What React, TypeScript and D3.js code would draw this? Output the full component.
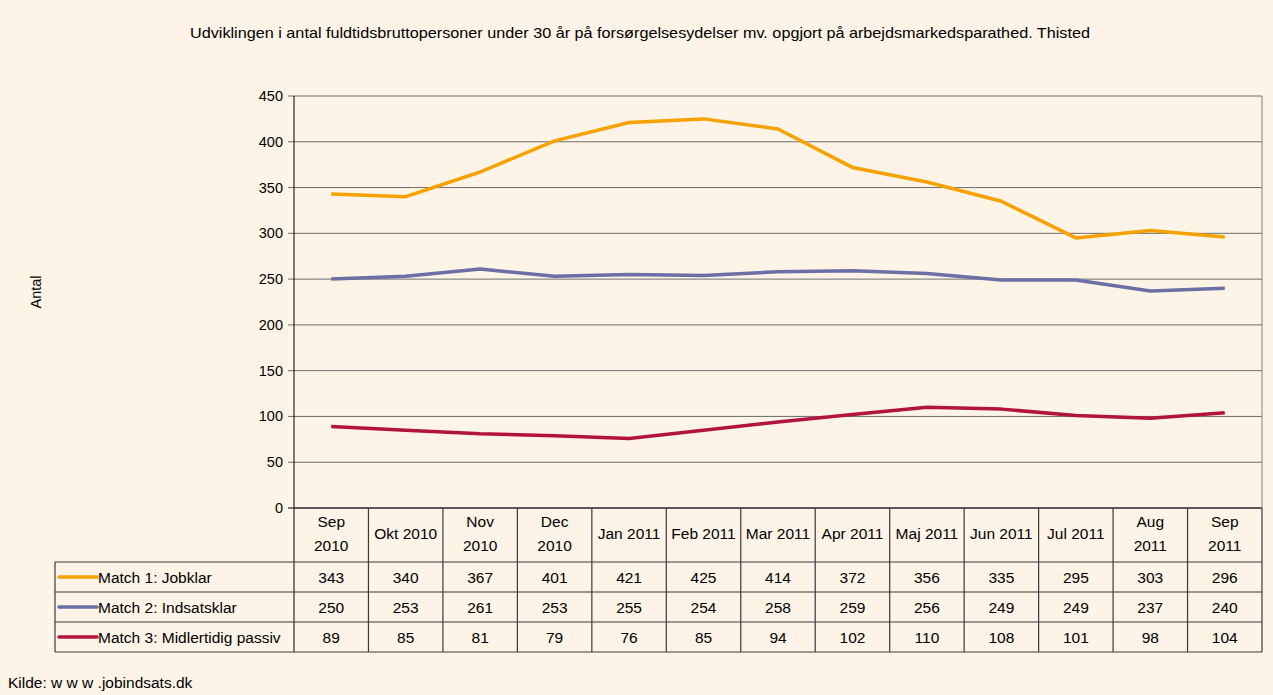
import React from "react";
import * as d3 from "d3";

const months: string[][] = [
  ["Sep", "2010"], ["Okt 2010"], ["Nov", "2010"], ["Dec", "2010"], ["Jan 2011"], ["Feb 2011"],
  ["Mar 2011"], ["Apr 2011"], ["Maj 2011"], ["Jun 2011"], ["Jul 2011"], ["Aug", "2011"], ["Sep", "2011"],
];
const jobklar = [343, 340, 367, 401, 421, 425, 414, 372, 356, 335, 295, 303, 296];
const indsatsklar = [250, 253, 261, 253, 255, 254, 258, 259, 256, 249, 249, 237, 240];
const passiv = [89, 85, 81, 79, 76, 85, 94, 102, 110, 108, 101, 98, 104];
const yTicks = [0, 50, 100, 150, 200, 250, 300, 350, 400, 450];

const series = [
  { name: "Match 1: Jobklar", values: jobklar, color: "#F5A202" },
  { name: "Match 2: Indsatsklar", values: indsatsklar, color: "#6B6FA6" },
  { name: "Match 3: Midlertidig passiv", values: passiv, color: "#B3143E" },
];

export default function App() {
  const W = 1273, H = 695;
  const left = 294, right = 1262, top = 96, bottom = 508;
  const x = d3.scaleBand<number>().domain(months.map((_, i) => i)).range([left, right]);
  const y = d3.scaleLinear().domain([0, 450]).range([bottom, top]);
  const cx = (i: number) => (x(i) as number) + x.bandwidth() / 2;
  const line = d3.line<number>().x((_, i) => cx(i)).y((v) => y(v));
  const font = "Arial, 'Liberation Sans', sans-serif";
  const tableLeft = 55;
  const headerBottom = 562;
  const rowH = 30;
  const tableBottom = headerBottom + rowH * 3;
  const lineColor = "#3a3a3a";
  const fs = 15.5;

  return (
    <svg width={W} height={H} style={{ position: "absolute", left: 0, top: 0 }} fontFamily={font}>
      <rect x={0} y={0} width={W} height={H} fill="#FDF3E6" />
      <text x={190} y={38} fontSize={14.5} fill="#000" textLength={900} lengthAdjust="spacingAndGlyphs">
        Udviklingen i antal fuldtidsbruttopersoner under 30 år på forsørgelsesydelser mv. opgjort på arbejdsmarkedsparathed. Thisted
      </text>
      <text transform={`translate(41,${292}) rotate(-90)`} textAnchor="middle" fontSize={14.5}>Antal</text>
      {/* grid */}
      {yTicks.map((t) => (
        <g key={t}>
          <line x1={left - 6} x2={right} y1={y(t)} y2={y(t)} stroke={t === 0 ? "#000" : "#6e6e6e"} strokeWidth={1} />
          <text x={283} y={y(t) + 5} textAnchor="end" fontSize={14.5}>{t}</text>
        </g>
      ))}
      <line x1={right} x2={right} y1={top} y2={bottom} stroke="#808080" />
      <line x1={left} x2={left} y1={top} y2={tableBottom} stroke="#000" />
      {/* lines */}
      {series.map((s) => (
        <path key={s.name} d={line(s.values) || ""} fill="none" stroke={s.color} strokeWidth={3.5} strokeLinejoin="round" />
      ))}
      {/* table */}
      <g stroke={lineColor} strokeWidth={1.2} fill="none">
        <line x1={left} x2={right} y1={bottom} y2={bottom} />
        <line x1={tableLeft} x2={right} y1={headerBottom} y2={headerBottom} />
        <line x1={tableLeft} x2={right} y1={headerBottom + rowH} y2={headerBottom + rowH} />
        <line x1={tableLeft} x2={right} y1={headerBottom + rowH * 2} y2={headerBottom + rowH * 2} />
        <line x1={tableLeft} x2={right} y1={tableBottom} y2={tableBottom} />
        <line x1={tableLeft} x2={tableLeft} y1={headerBottom} y2={tableBottom} />
        {months.map((_, i) => (
          <line key={i} x1={(x(i) as number) + x.bandwidth()} x2={(x(i) as number) + x.bandwidth()} y1={bottom} y2={tableBottom} />
        ))}
      </g>
      {months.map((m, i) => (
        m.length === 2 ? (
          <g key={i}>
            <text x={cx(i)} y={527} textAnchor="middle" fontSize={fs}>{m[0]}</text>
            <text x={cx(i)} y={551} textAnchor="middle" fontSize={fs}>{m[1]}</text>
          </g>
        ) : (
          <text key={i} x={cx(i)} y={539} textAnchor="middle" fontSize={fs}>{m[0]}</text>
        )
      ))}
      {series.map((s, r) => {
        const cy = headerBottom + rowH * r + rowH / 2;
        return (
          <g key={s.name}>
            <line x1={59} x2={97} y1={cy} y2={cy} stroke={s.color} strokeWidth={3.5} strokeLinecap="round" />
            <text x={98} y={cy + 5.5} fontSize={fs}>{s.name}</text>
            {s.values.map((v, i) => (
              <text key={i} x={cx(i)} y={cy + 5.5} textAnchor="middle" fontSize={fs}>{v}</text>
            ))}
          </g>
        );
      })}
      <text x={8} y={688} fontSize={fs}>Kilde: w w w .jobindsats.dk</text>
    </svg>
  );
}
